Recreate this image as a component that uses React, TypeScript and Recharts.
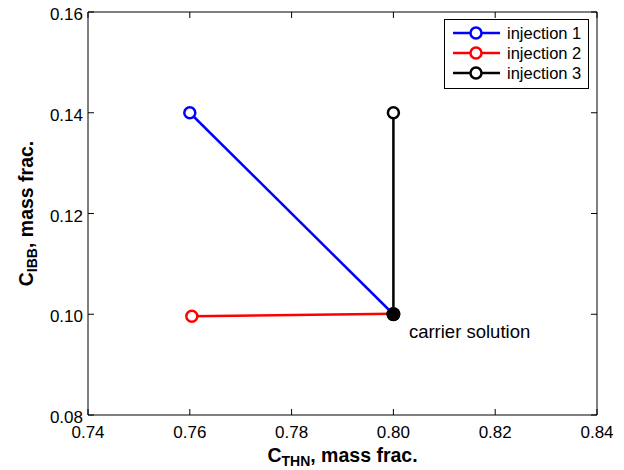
import React from "react";
import {
  ComposedChart,
  Line,
  XAxis,
  YAxis,
  Legend,
  LabelList,
} from "recharts";

// Composition paths (THN mass fraction, IBB mass fraction)
const injection1 = [
  { x: 0.76, y: 0.14 },
  { x: 0.8, y: 0.1 },
];
const injection2 = [
  { x: 0.7604, y: 0.0996 },
  { x: 0.8, y: 0.1001 },
];
const injection3 = [
  { x: 0.8, y: 0.14 },
  { x: 0.8, y: 0.1 },
];
const carrier = [{ x: 0.8, y: 0.1, name: "carrier solution" }];

const seriesNames = ["injection 1", "injection 2", "injection 3"];
const seriesColors = ["#0000ff", "#ff0000", "#000000"];

const xTicks = [0.74, 0.76, 0.78, 0.8, 0.82, 0.84];
const yTicks = [0.08, 0.1, 0.12, 0.14, 0.16];

const FONT = "'Liberation Sans', Arial, Helvetica, sans-serif";
const TICK = 6; // recharts tick offset; our marks are drawn inward by the same length

// Tick renderers: recharts places (x, y) TICK px outside the axis line.
const BottomTick = (props: any) => {
  const { x, y, payload } = props;
  const ay = y - TICK;
  return (
    <g>
      <line x1={x} y1={ay} x2={x} y2={ay - TICK} stroke="#000" strokeWidth={1} />
      <text x={x} y={ay + 23} textAnchor="middle" fontSize={17} fontFamily={FONT} fill="#000">
        {Number(payload.value).toFixed(2)}
      </text>
    </g>
  );
};

const TopTick = (props: any) => {
  const { x, y } = props;
  const ay = y + TICK;
  return <line x1={x} y1={ay} x2={x} y2={ay + TICK} stroke="#000" strokeWidth={1} />;
};

const LeftTick = (props: any) => {
  const { x, y, payload } = props;
  const ax = x + TICK;
  return (
    <g>
      <line x1={ax} y1={y} x2={ax + TICK} y2={y} stroke="#000" strokeWidth={1} />
      <text x={ax - 5} y={y + 8} textAnchor="end" fontSize={17} fontFamily={FONT} fill="#000">
        {Number(payload.value).toFixed(2)}
      </text>
    </g>
  );
};

const RightTick = (props: any) => {
  const { x, y } = props;
  const ax = x - TICK;
  return <line x1={ax} y1={y} x2={ax - TICK} y2={y} stroke="#000" strokeWidth={1} />;
};

const XTitle = (props: any) => {
  const { viewBox } = props;
  const cx = viewBox.x + viewBox.width / 2;
  return (
    <text x={cx} y={462} textAnchor="middle" fontFamily={FONT} fontWeight="bold" fontSize={19.5} fill="#000">
      <tspan>C</tspan>
      <tspan fontSize={14} dy={3.5}>THN</tspan>
      <tspan dy={-3.5}>, mass frac.</tspan>
    </text>
  );
};

const YTitle = (props: any) => {
  const { viewBox } = props;
  const cy = viewBox.y + viewBox.height / 2;
  const cx = 33;
  return (
    <text
      x={cx}
      y={cy}
      transform={`rotate(-90 ${cx} ${cy})`}
      textAnchor="middle"
      fontFamily={FONT}
      fontWeight="bold"
      fontSize={19.5}
      fill="#000"
    >
      <tspan>C</tspan>
      <tspan fontSize={14} dy={3.5}>IBB</tspan>
      <tspan dy={-3.5}>, mass frac.</tspan>
    </text>
  );
};

const LegendBox = () => (
  <svg width={146} height={71} style={{ display: "block" }}>
    <rect x={0.5} y={0.5} width={144} height={69} fill="#fff" stroke="#000" strokeWidth={1} />
    {seriesNames.map((name, i) => {
      const cy = 14 + i * 20;
      return (
        <g key={name}>
          <line x1={9} y1={cy} x2={56} y2={cy} stroke={seriesColors[i]} strokeWidth={2.5} />
          <circle cx={32} cy={cy} r={5.5} fill="#fff" stroke={seriesColors[i]} strokeWidth={2.5} />
          <text x={63} y={cy + 6} fontSize={16.5} fontFamily={FONT} fill="#000">
            {name}
          </text>
        </g>
      );
    })}
  </svg>
);

const CarrierLabel = (props: any) => {
  const { x, y, value } = props;
  return (
    <text x={x + 15.5} y={y + 23.5} fontSize={18.5} fontFamily={FONT} fill="#000">
      {value}
    </text>
  );
};

const openDot = (color: string) => ({
  r: 5.5,
  fill: "#fff",
  stroke: color,
  strokeWidth: 2.5,
});

export default function App() {
  return (
    <div style={{ position: "absolute", left: 0, top: 0, width: 624, height: 470, background: "#fff" }}>
      <ComposedChart
        width={624}
        height={470}
        margin={{ top: 11, right: 26, bottom: 5, left: 8 }}
      >
        <XAxis
          xAxisId="bottom"
          type="number"
          dataKey="x"
          domain={[0.74, 0.84]}
          ticks={xTicks}
          orientation="bottom"
          height={50}
          tickSize={TICK}
          tickMargin={0}
          tickLine={false}
          tick={<BottomTick />}
          axisLine={{ stroke: "#000", strokeWidth: 1 }}
          allowDataOverflow
          interval={0}
          label={<XTitle />}
        />
        <XAxis
          xAxisId="top"
          type="number"
          dataKey="x"
          domain={[0.74, 0.84]}
          ticks={xTicks}
          orientation="top"
          height={1}
          tickSize={TICK}
          tickMargin={0}
          tickLine={false}
          tick={<TopTick />}
          axisLine={{ stroke: "#000", strokeWidth: 1 }}
          allowDataOverflow
          interval={0}
        />
        <YAxis
          yAxisId="left"
          type="number"
          dataKey="y"
          domain={[0.08, 0.16]}
          ticks={yTicks}
          orientation="left"
          width={80}
          tickSize={TICK}
          tickMargin={0}
          tickLine={false}
          tick={<LeftTick />}
          axisLine={{ stroke: "#000", strokeWidth: 1 }}
          allowDataOverflow
          interval={0}
          label={<YTitle />}
        />
        <YAxis
          yAxisId="right"
          type="number"
          dataKey="y"
          domain={[0.08, 0.16]}
          ticks={yTicks}
          orientation="right"
          width={1}
          tickSize={TICK}
          tickMargin={0}
          tickLine={false}
          tick={<RightTick />}
          axisLine={{ stroke: "#000", strokeWidth: 1 }}
          allowDataOverflow
          interval={0}
        />
        <Line
          xAxisId="bottom"
          yAxisId="left"
          data={injection1}
          dataKey="y"
          name={seriesNames[0]}
          stroke={seriesColors[0]}
          strokeWidth={2.5}
          dot={openDot(seriesColors[0])}
          activeDot={false}
          isAnimationActive={false}
        />
        <Line
          xAxisId="bottom"
          yAxisId="left"
          data={injection2}
          dataKey="y"
          name={seriesNames[1]}
          stroke={seriesColors[1]}
          strokeWidth={2.5}
          dot={openDot(seriesColors[1])}
          activeDot={false}
          isAnimationActive={false}
        />
        <Line
          xAxisId="bottom"
          yAxisId="left"
          data={injection3}
          dataKey="y"
          name={seriesNames[2]}
          stroke={seriesColors[2]}
          strokeWidth={2.5}
          dot={openDot(seriesColors[2])}
          activeDot={false}
          isAnimationActive={false}
        />
        {/* carrier solution: single filled point drawn last so it sits on top */}
        <Line
          xAxisId="top"
          yAxisId="right"
          data={carrier}
          dataKey="y"
          name="carrier"
          stroke="none"
          dot={{ r: 7, fill: "#000", stroke: "#000", strokeWidth: 0 }}
          activeDot={false}
          legendType="none"
          isAnimationActive={false}
        >
          <LabelList dataKey="name" content={<CarrierLabel />} />
        </Line>
        <Legend
          layout="vertical"
          verticalAlign="middle"
          align="center"
          content={<LegendBox />}
          wrapperStyle={{ position: "absolute", left: 444, top: 19, width: 146, height: 71 }}
        />
      </ComposedChart>
    </div>
  );
}
